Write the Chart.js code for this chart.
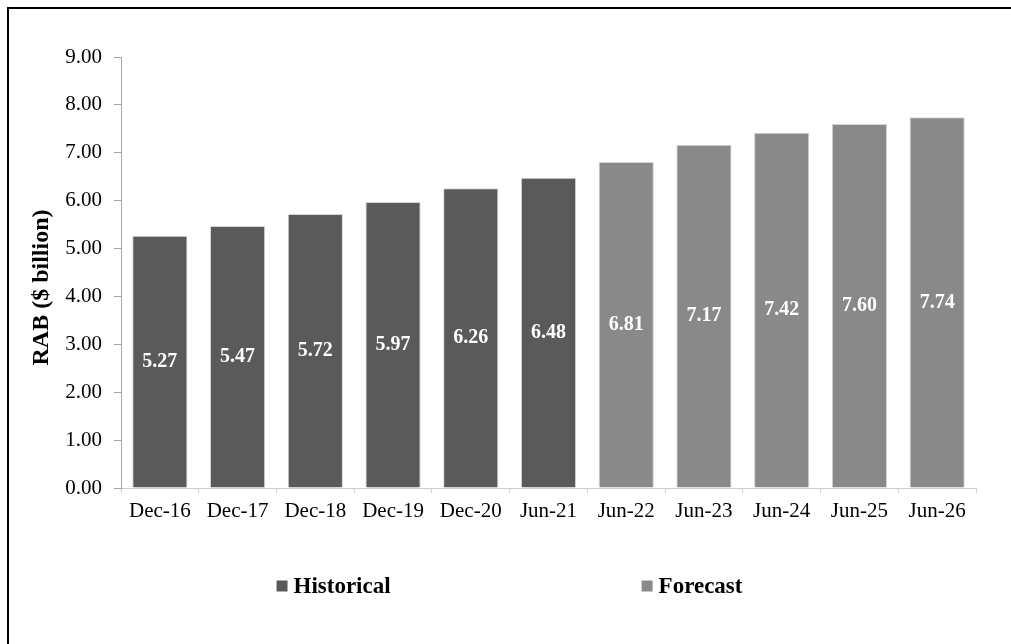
<!DOCTYPE html>
<html>
<head>
<meta charset="utf-8">
<title>RAB ($ billion)</title>
<script src="https://cdn.jsdelivr.net/npm/chart.js@4/dist/chart.umd.min.js"></script>
<style>
  html, body { margin: 0; padding: 0; background: #ffffff; }
  body { width: 1011px; height: 644px; position: relative; overflow: hidden; }
  #frame {
    position: absolute; left: 7px; top: 7px; right: -10px; bottom: -10px;
    border-top: 2px solid #000000; border-left: 2px solid #000000;
  }
  #chart { position: absolute; left: 0; top: 0; }
</style>
</head>
<body>
<div id="frame"></div>
<canvas id="chart" width="1011" height="644"></canvas>
<script>
// Period labels along the x axis
const periods = ['Dec-16', 'Dec-17', 'Dec-18', 'Dec-19', 'Dec-20', 'Jun-21',
                 'Jun-22', 'Jun-23', 'Jun-24', 'Jun-25', 'Jun-26'];
// Regulated asset base, $ billion
const historical = [5.27, 5.47, 5.72, 5.97, 6.26, 6.48, null, null, null, null, null];
const forecast   = [null, null, null, null, null, null, 6.81, 7.17, 7.42, 7.60, 7.74];
// Y-axis range
const yMin = 0;
const yMax = 9;
const yStep = 1;
const yTitle = 'RAB ($ billion)';

const SERIF = '"Liberation Serif", "Times New Roman", Times, serif';

// White value labels centred in each bar
const barValueLabels = {
  id: 'barValueLabels',
  afterDatasetsDraw(chart) {
    const ctx = chart.ctx;
    ctx.save();
    ctx.font = 'bold 20px ' + SERIF;
    ctx.fillStyle = '#ffffff';
    ctx.textAlign = 'center';
    ctx.textBaseline = 'middle';
    chart.data.datasets.forEach((ds, di) => {
      const meta = chart.getDatasetMeta(di);
      meta.data.forEach((bar, i) => {
        const v = ds.data[i];
        if (v === null || v === undefined) return;
        const p = bar.getProps(['x', 'y', 'base'], true);
        ctx.fillText(v.toFixed(2), p.x, (p.y + p.base) / 2);
      });
    });
    ctx.restore();
  }
};

// Vertical y-axis title, sitting a little below the middle of the plot
const yAxisTitle = {
  id: 'yAxisTitle',
  afterDraw(chart) {
    const ctx = chart.ctx;
    const area = chart.chartArea;
    ctx.save();
    ctx.font = 'bold 24px ' + SERIF;
    ctx.fillStyle = '#000000';
    ctx.textAlign = 'center';
    ctx.textBaseline = 'middle';
    ctx.translate(42, (area.top + area.bottom) / 2 + 15);
    ctx.rotate(-Math.PI / 2);
    ctx.fillText(yTitle, 0, 0);
    ctx.restore();
  }
};

// Two-item legend spread wide beneath the axis labels
const wideLegend = {
  id: 'wideLegend',
  afterDraw(chart) {
    const ctx = chart.ctx;
    const box = 11;
    const gapBoxText = 6;
    const itemGap = 251;
    const y = 587;
    ctx.save();
    ctx.font = 'bold 23px ' + SERIF;
    ctx.textBaseline = 'middle';
    ctx.textAlign = 'left';
    const items = chart.data.datasets.map(ds => ({
      text: ds.label, color: ds.backgroundColor,
      w: box + gapBoxText + ctx.measureText(ds.label).width
    }));
    const total = items.reduce((s, it) => s + it.w, 0) + itemGap * (items.length - 1);
    let x = chart.width / 2 + 4 - total / 2;
    items.forEach(it => {
      ctx.fillStyle = it.color;
      ctx.fillRect(x, y - box / 2 - 1, box, box);
      ctx.fillStyle = '#000000';
      ctx.fillText(it.text, x + box + gapBoxText, y);
      x += it.w + itemGap;
    });
    ctx.restore();
  }
};

new Chart(document.getElementById('chart'), {
  type: 'bar',
  data: {
    labels: periods,
    datasets: [
      { label: 'Historical', data: historical, backgroundColor: '#5a5a5a',
        borderColor: '#d6d6d6', borderWidth: 1 },
      { label: 'Forecast', data: forecast, backgroundColor: '#898989',
        borderColor: '#d6d6d6', borderWidth: 1 }
    ]
  },
  options: {
    responsive: false,
    animation: false,
    events: [],
    categoryPercentage: 1.0,
    barPercentage: 0.71,
    layout: { padding: { left: 10, right: 35, top: 57, bottom: 56 } },
    plugins: {
      legend: { display: false },
      tooltip: { enabled: false }
    },
    scales: {
      x: {
        stacked: true,
        afterFit: s => { s.height = 100; },
        grid: { drawOnChartArea: false, drawTicks: true, tickLength: 5, color: '#cfcfcf', offset: true },
        border: { color: '#cfcfcf', width: 1 },
        ticks: { color: '#000000', padding: 6, maxRotation: 0, autoSkip: false,
                 font: { family: SERIF, size: 21 } }
      },
      y: {
        stacked: true,
        min: yMin,
        max: yMax,
        afterFit: s => { s.width = 111; },
        grid: { drawOnChartArea: false, drawTicks: true, tickLength: 7, color: '#a6a6a6' },
        border: { color: '#a6a6a6', width: 1 },
        ticks: { stepSize: yStep, color: '#000000', padding: 12,
                 font: { family: SERIF, size: 21 },
                 callback: v => Number(v).toFixed(2) }
      }
    }
  },
  plugins: [barValueLabels, yAxisTitle, wideLegend]
});
</script>
</body>
</html>
